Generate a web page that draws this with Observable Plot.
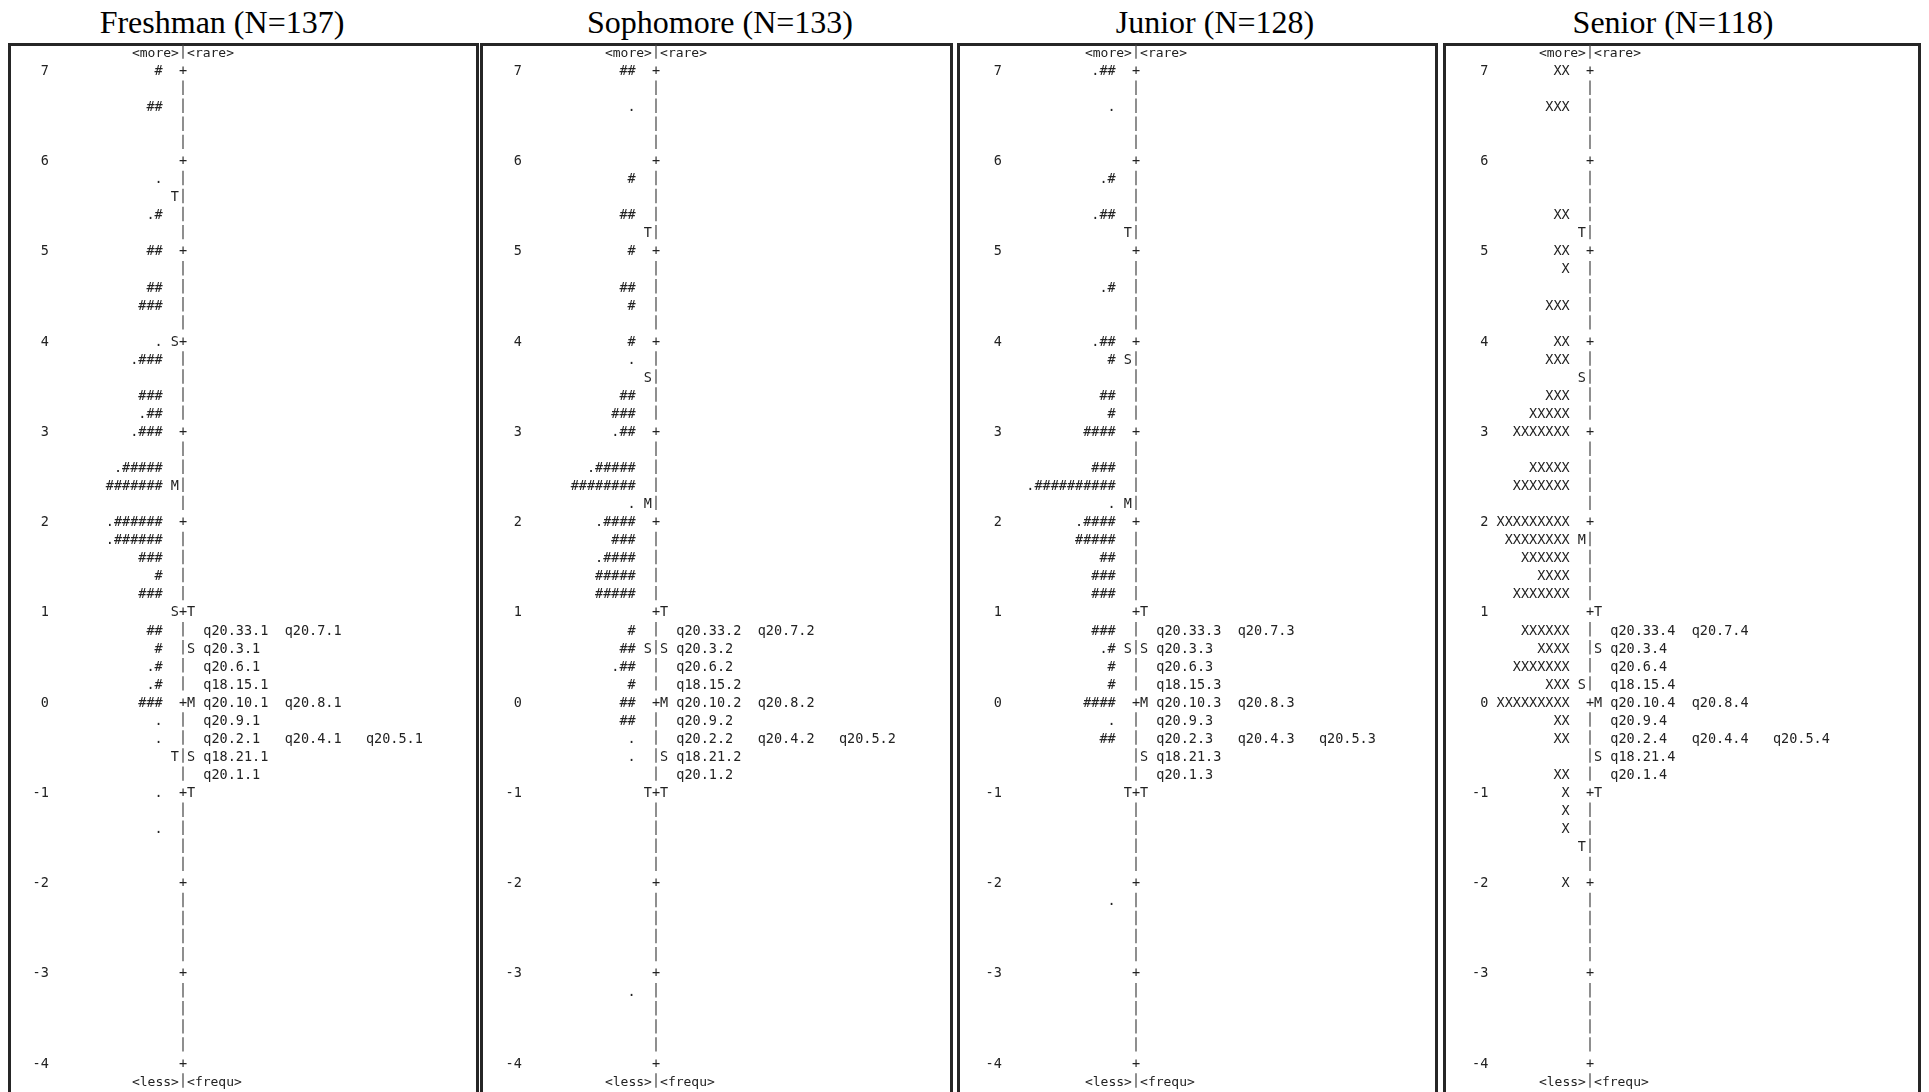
<!DOCTYPE html>
<html>
<head>
<meta charset="utf-8">
<script src="https://cdn.jsdelivr.net/npm/d3@7"></script>
<script src="https://cdn.jsdelivr.net/npm/@observablehq/plot@0.6"></script>
<style>
  html, body { margin: 0; padding: 0; background: #fff; }
  #page { position: relative; width: 1929px; height: 1092px; overflow: hidden; background: #fff; }
  .box { position: absolute; top: 43px; height: 1100px; border: 3px solid #262626; box-sizing: border-box; }
  .title { position: absolute; top: 6px; font-family: "Liberation Serif", "Times New Roman", serif; font-size: 32px; line-height: 32px; color: #000; white-space: nowrap; transform: translateX(-50%); }
  .plot { position: absolute; top: 0; will-change: transform; }
</style>
</head>
<body>
<div id="page"></div>
<script>
// ---------- data ----------
const groups = ["Freshman", "Sophomore", "Junior", "Senior"];
const groupN = [137, 133, 128, 118];
const itemSuffix = ["1", "2", "3", "4"];
const logitTicks = [7, 6, 5, 4, 3, 2, 1, 0, -1, -2, -3, -4];

// person distribution rows: [logit, symbols]
const freshmanPersons = [
  [7.0, "#"], [6.6, "##"], [5.8, "."], [5.4, ".#"], [5.0, "##"], [4.6, "##"], [4.4, "###"],
  [4.0, "."], [3.8, ".###"], [3.4, "###"], [3.2, ".##"], [3.0, ".###"], [2.6, ".#####"],
  [2.4, "#######"], [2.0, ".######"], [1.8, ".######"], [1.6, "###"], [1.4, "#"], [1.2, "###"],
  [0.8, "##"], [0.6, "#"], [0.4, ".#"], [0.2, ".#"], [0.0, "###"], [-0.2, "."], [-0.4, "."],
  [-1.0, "."], [-1.4, "."]
];
const sophomorePersons = [
  [7.0, "##"], [6.6, "."], [5.8, "#"], [5.4, "##"], [5.0, "#"], [4.6, "##"], [4.4, "#"],
  [4.0, "#"], [3.8, "."], [3.4, "##"], [3.2, "###"], [3.0, ".##"], [2.6, ".#####"],
  [2.4, "########"], [2.2, "."], [2.0, ".####"], [1.8, "###"], [1.6, ".####"], [1.4, "#####"], [1.2, "#####"],
  [0.8, "#"], [0.6, "##"], [0.4, ".##"], [0.2, "#"], [0.0, "##"], [-0.2, "##"], [-0.4, "."],
  [-0.6, "."], [-3.2, "."]
];
const juniorPersons = [
  [7.0, ".##"], [6.6, "."], [5.8, ".#"], [5.4, ".##"], [4.6, ".#"], [4.0, ".##"], [3.8, "#"],
  [3.4, "##"], [3.2, "#"], [3.0, "####"], [2.6, "###"], [2.4, ".##########"], [2.2, "."],
  [2.0, ".####"], [1.8, "#####"], [1.6, "##"], [1.4, "###"], [1.2, "###"],
  [0.8, "###"], [0.6, ".#"], [0.4, "#"], [0.2, "#"], [0.0, "####"], [-0.2, "."], [-0.4, "##"],
  [-2.2, "."]
];
const seniorPersons = [
  [7.0, "XX"], [6.6, "XXX"], [5.4, "XX"], [5.0, "XX"], [4.8, "X"], [4.4, "XXX"], [4.0, "XX"],
  [3.8, "XXX"], [3.4, "XXX"], [3.2, "XXXXX"], [3.0, "XXXXXXX"], [2.6, "XXXXX"], [2.4, "XXXXXXX"],
  [2.0, "XXXXXXXXX"], [1.8, "XXXXXXXX"], [1.6, "XXXXXX"], [1.4, "XXXX"], [1.2, "XXXXXXX"],
  [0.8, "XXXXXX"], [0.6, "XXXX"], [0.4, "XXXXXXX"], [0.2, "XXX"], [0.0, "XXXXXXXXX"],
  [-0.2, "XX"], [-0.4, "XX"], [-0.8, "XX"], [-1.0, "X"], [-1.2, "X"], [-1.4, "X"], [-2.0, "X"]
];
const personRows = [freshmanPersons, sophomorePersons, juniorPersons, seniorPersons];

// person M/S/T markers (left of the axis): [logit, letter]
const freshmanMarks = [[5.6, "T"], [4.0, "S"], [2.4, "M"], [1.0, "S"], [-0.6, "T"]];
const sophomoreMarks = [[5.2, "T"], [3.6, "S"], [2.2, "M"], [0.6, "S"], [-1.0, "T"]];
const juniorMarks = [[5.2, "T"], [3.8, "S"], [2.2, "M"], [0.6, "S"], [-1.0, "T"]];
const seniorMarks = [[5.2, "T"], [3.6, "S"], [1.8, "M"], [0.2, "S"], [-1.6, "T"]];
const personMarks = [freshmanMarks, sophomoreMarks, juniorMarks, seniorMarks];

// item M/S/T markers (right of the axis)
const itemMarks = [[1.0, "T"], [0.6, "S"], [0.0, "M"], [-0.6, "S"], [-1.0, "T"]];

// item rows: [logit, item stems]
const itemRows = [
  [0.8, ["q20.33", "q20.7"]],
  [0.6, ["q20.3"]],
  [0.4, ["q20.6"]],
  [0.2, ["q18.15"]],
  [0.0, ["q20.10", "q20.8"]],
  [-0.2, ["q20.9"]],
  [-0.4, ["q20.2", "q20.4", "q20.5"]],
  [-0.6, ["q18.21"]],
  [-0.8, ["q20.1"]]
];

// ---------- layout ----------
const CW = 8.13;                       // character cell width (px)
const FONT = "'DejaVu Sans Mono', 'Liberation Mono', monospace";
const FS = 13.5;
const INK = "#222";
const boxLeft = [8, 480, 957, 1443];
const boxRight = [479, 953, 1438, 1921];
const axisX = [181.5, 655, 1134.5, 1588.5];
const numberEdge = [-16.5, -16.5, -16.5, -12.5];
const titleX = [222, 720, 1215, 1673];
const yTop = 70.1, yBottom = 1062.9;

const page = document.getElementById("page");
const axisRows = d3.range(0, 56).map(i => +(7 - i * 0.2).toFixed(1));
const barRows = axisRows.filter(d => !Number.isInteger(d)).concat([7.2, -4.2]);
const plusRows = axisRows.filter(d => Number.isInteger(d));

groups.forEach((g, i) => {
  const box = document.createElement("div");
  box.className = "box";
  box.style.left = boxLeft[i] + "px";
  box.style.width = (boxRight[i] - boxLeft[i]) + "px";
  page.appendChild(box);

  const title = document.createElement("div");
  title.className = "title";
  title.style.left = titleX[i] + "px";
  title.textContent = `${g} (N=${groupN[i]})`;
  page.appendChild(title);

  const W = boxRight[i] - boxLeft[i];
  const ax = Math.round(axisX[i] - boxLeft[i]) + 0.5;
  const persons = personRows[i].map(([y, s]) => ({y, s}));
  const pm = personMarks[i].map(([y, s]) => ({y, s}));
  const im = itemMarks.map(([y, s]) => ({y, s}));
  const items = itemRows.flatMap(([y, stems]) => stems.map((stem, k) => ({y, k, s: `${stem}.${itemSuffix[i]}`})));
  const common = {fontFamily: FONT, fontSize: FS, fill: INK};

  const svg = Plot.plot({
    width: W,
    height: 1092,
    margin: 0,
    style: {background: "transparent", overflow: "visible"},
    x: {type: "linear", domain: [0, 1], range: [ax, ax + CW], axis: null},
    y: {type: "linear", domain: [-4, 7], range: [yBottom, yTop], axis: null},
    marks: [
      Plot.text(logitTicks, {x: numberEdge[i], y: d => d, text: d => String(d), textAnchor: "end", ...common}),
      Plot.ruleX(barRows, {x: 0, y1: d => d + 0.085, y2: d => d - 0.075, stroke: "#444", strokeWidth: 1.2}),
      Plot.text(plusRows, {x: 0, y: d => d, text: () => "+", textAnchor: "middle", ...common}),
      Plot.text(["<more>"], {x: -0.5, y: 7.2, text: d => d, textAnchor: "end", ...common, fontSize: 13}),
      Plot.text(["<rare>"], {x: 0.5, y: 7.2, text: d => d, textAnchor: "start", ...common, fontSize: 13}),
      Plot.text(["<less>"], {x: -0.5, y: -4.2, text: d => d, textAnchor: "end", ...common, fontSize: 13}),
      Plot.text(["<frequ>"], {x: 0.5, y: -4.2, text: d => d, textAnchor: "start", ...common, fontSize: 13}),
      Plot.text(persons, {x: -2.5, y: "y", text: "s", textAnchor: "end", ...common}),
      Plot.text(pm, {x: -1, y: "y", text: "s", textAnchor: "middle", ...common}),
      Plot.text(im, {x: 1, y: "y", text: "s", textAnchor: "middle", ...common}),
      Plot.text(items, {x: d => 2.5 + 10 * d.k, y: "y", text: "s", textAnchor: "start", ...common})
    ]
  });
  svg.classList.add("plot");
  svg.style.position = "absolute";
  svg.style.left = boxLeft[i] + "px";
  svg.style.top = "0px";
  page.appendChild(svg);
});
</script>
</body>
</html>
